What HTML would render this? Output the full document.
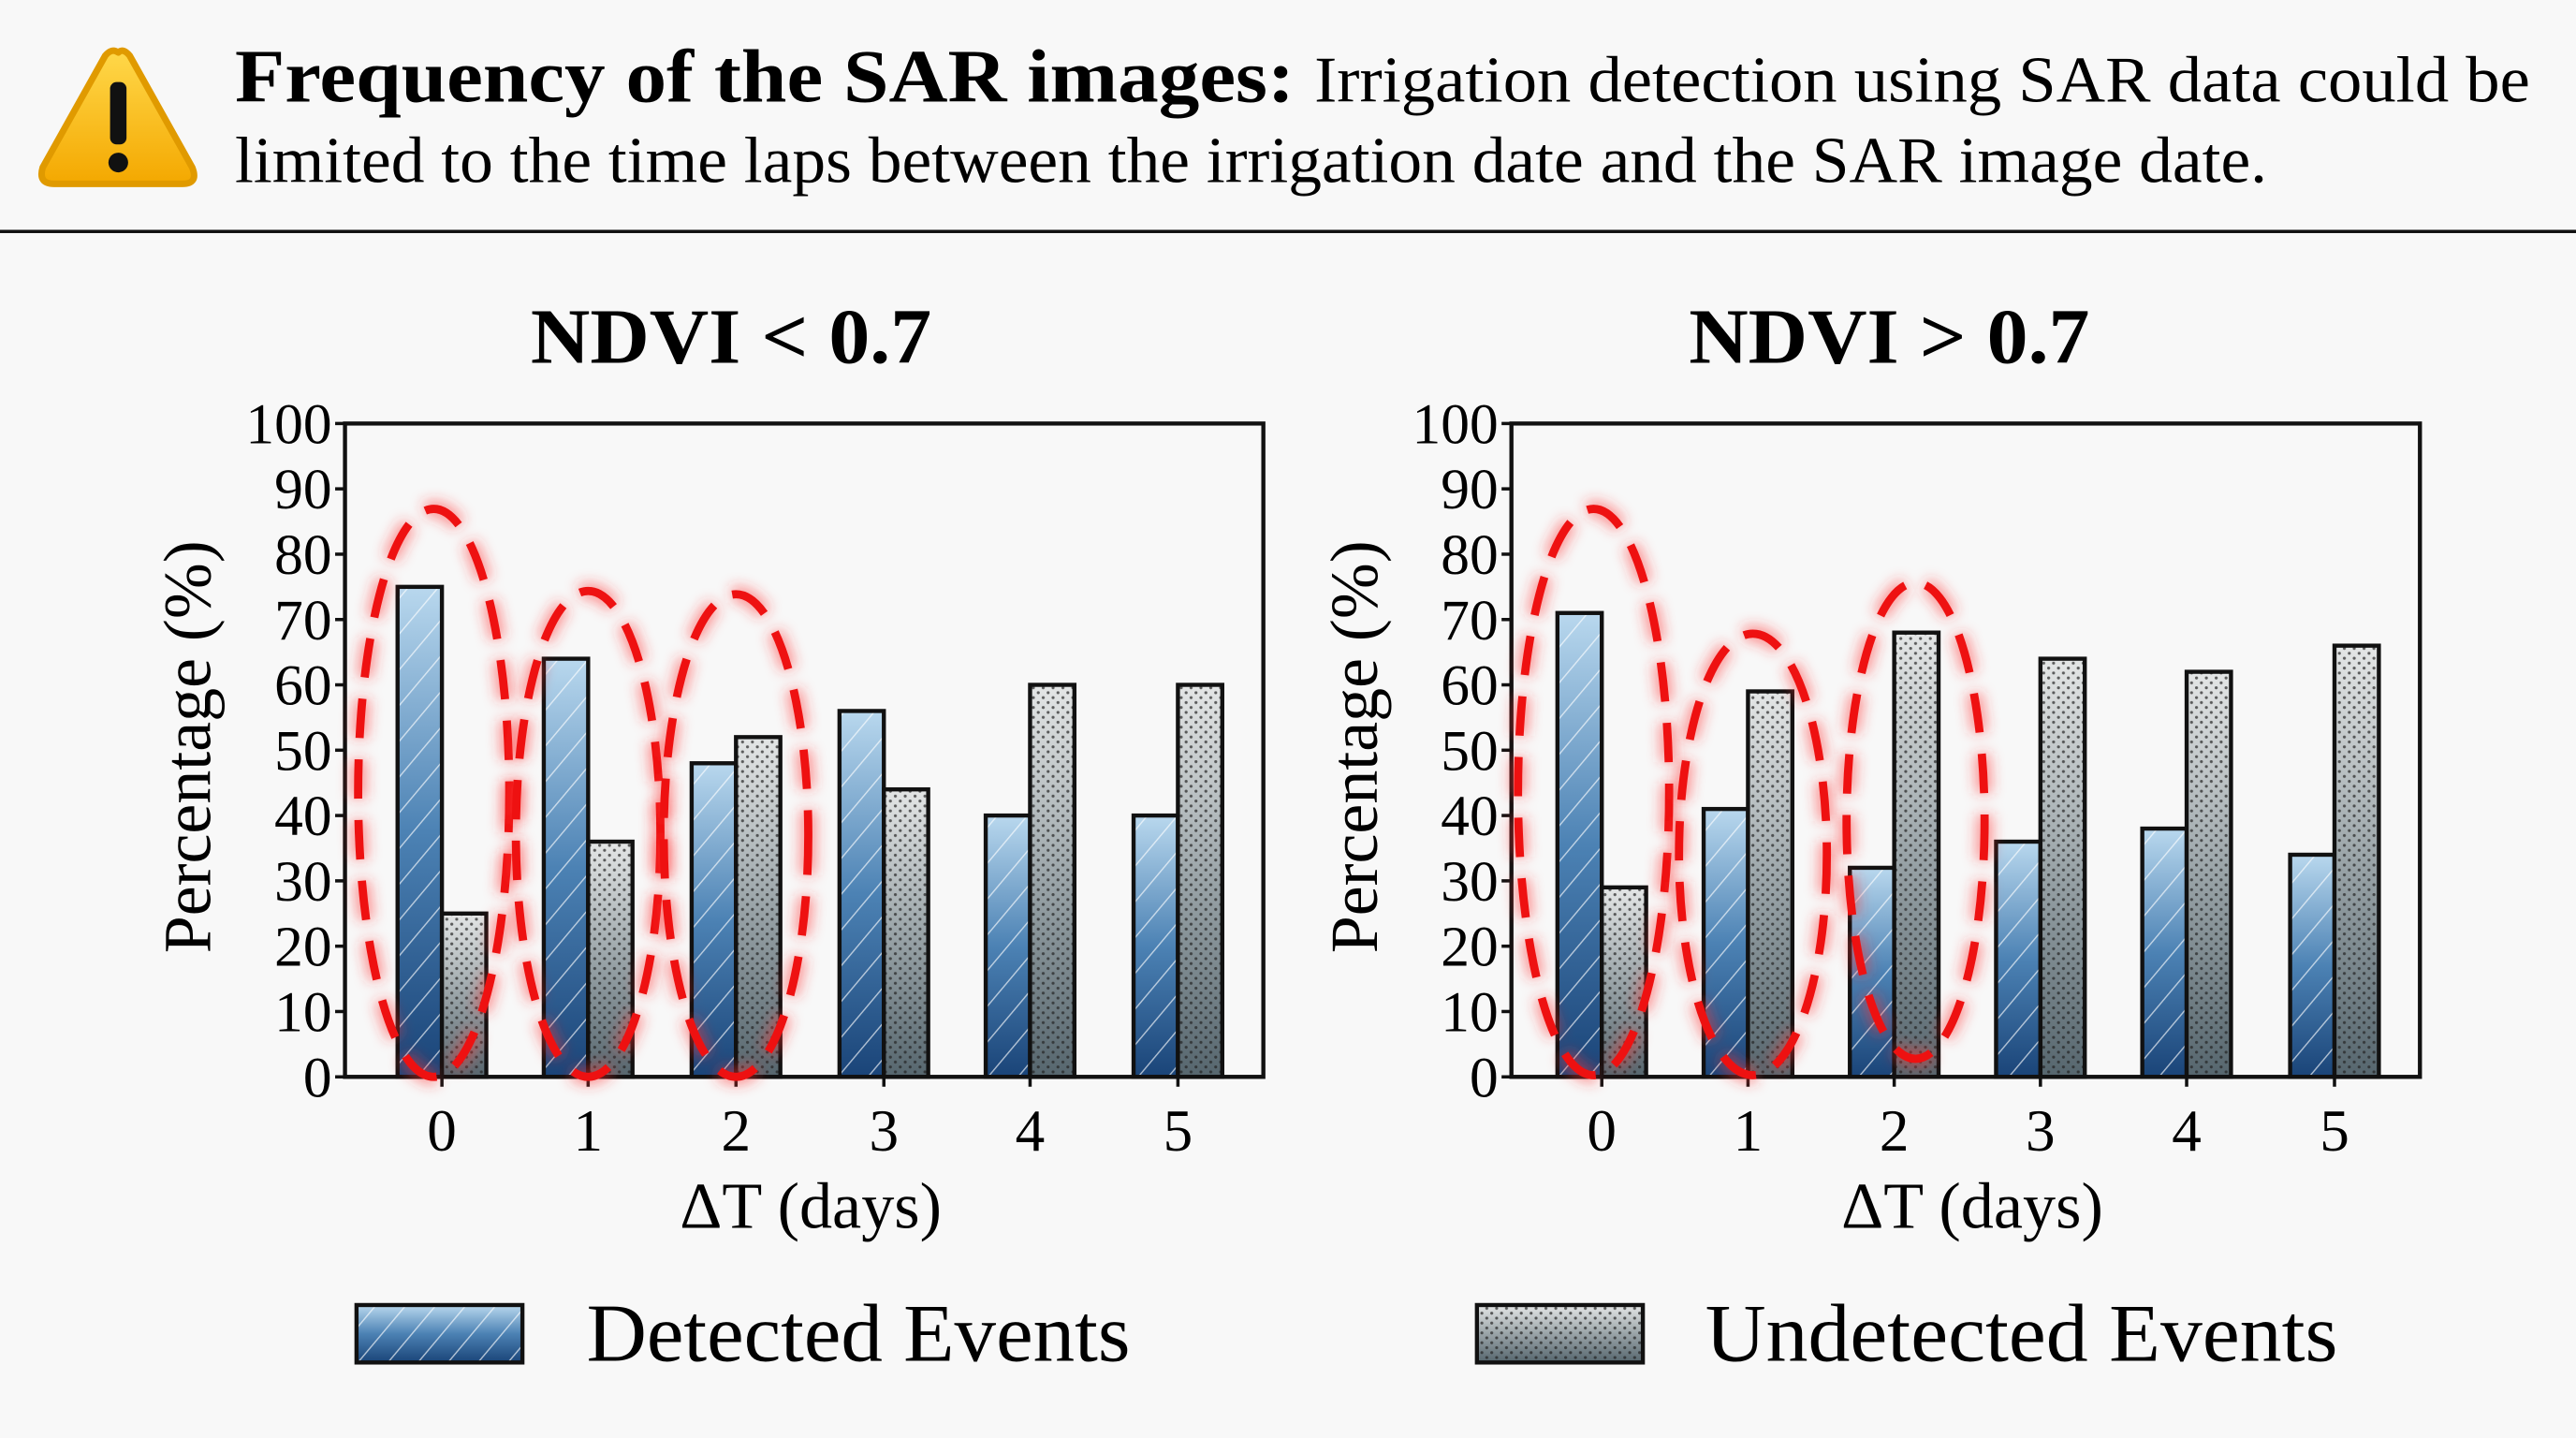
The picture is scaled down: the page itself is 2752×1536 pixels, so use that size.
<!DOCTYPE html>
<html><head><meta charset="utf-8"><style>html,body{margin:0;padding:0;background:#f8f8f8;}svg{display:block}</style></head><body>
<svg width="2752" height="1536" viewBox="0 0 1568 876" preserveAspectRatio="none" xmlns="http://www.w3.org/2000/svg" font-family="Liberation Serif, serif">
<defs>
<linearGradient id="gb" x1="0" y1="1" x2="0" y2="0"><stop offset="0" stop-color="#1a4478"/><stop offset="0.5" stop-color="#4c82b4"/><stop offset="1" stop-color="#b9d8ee"/></linearGradient>
<linearGradient id="gg" x1="0" y1="1" x2="0" y2="0"><stop offset="0" stop-color="#56666e"/><stop offset="0.5" stop-color="#9aa4a8"/><stop offset="1" stop-color="#e4e6e6"/></linearGradient>
<pattern id="hatch" width="14" height="14" patternUnits="userSpaceOnUse" patternTransform="rotate(40)"><line x1="0" y1="0" x2="0" y2="14" stroke="#fff" stroke-opacity="0.65" stroke-width="1.6"/></pattern>
<pattern id="dots" width="6" height="6" patternUnits="userSpaceOnUse"><circle cx="2" cy="2" r="0.9" fill="#222" fill-opacity="0.7"/><circle cx="5" cy="5" r="0.9" fill="#222" fill-opacity="0.7"/></pattern>
<filter id="glow" x="-30%" y="-10%" width="160%" height="120%"><feGaussianBlur stdDeviation="4"/></filter>
<linearGradient id="tri" x1="0" y1="0" x2="0" y2="1"><stop offset="0" stop-color="#ffd84a"/><stop offset="1" stop-color="#f4a800"/></linearGradient>
</defs>
<rect width="1568" height="876" fill="#f8f8f8"/>
<path d="M72 32 Q68 29 64 34 L26 102 Q23 112 33 112 L111 112 Q121 112 117 102 L79 34 Q75 29 72 32Z" fill="url(#tri)" stroke="#e09a00" stroke-width="4" stroke-linejoin="round"/>
<rect x="67" y="50" width="10" height="38" rx="4" fill="#111"/><circle cx="72" cy="99" r="6" fill="#111"/>
<text x="143" y="62" font-size="46" font-weight="bold" textLength="645" lengthAdjust="spacingAndGlyphs">Frequency of the SAR images:</text>
<text x="800" y="62" font-size="40" textLength="740" lengthAdjust="spacingAndGlyphs">Irrigation detection using SAR data could be</text>
<text x="143" y="111" font-size="40" textLength="1237" lengthAdjust="spacingAndGlyphs">limited to the time laps between the irrigation date and the SAR image date.</text>
<rect x="0" y="140" width="1568" height="2" fill="#111"/>
<g id="charts"></g>
<rect x="217" y="795" width="101" height="35" fill="url(#gb)"/><rect x="217" y="795" width="101" height="35" fill="url(#hatch)" stroke="#111" stroke-width="2.5"/>
<text x="357" y="829" font-size="50" textLength="331" lengthAdjust="spacingAndGlyphs">Detected Events</text>
<rect x="899" y="795" width="101" height="35" fill="url(#gg)"/><rect x="899" y="795" width="101" height="35" fill="url(#dots)" stroke="#111" stroke-width="2.5"/>
<text x="1038" y="829" font-size="50" textLength="385" lengthAdjust="spacingAndGlyphs">Undetected Events</text>
</svg>
<script>
const NS="http://www.w3.org/2000/svg";const g=document.getElementById('charts');
function el(t,a,txt){const e=document.createElementNS(NS,t);for(const k in a)e.setAttribute(k,a[k]);if(txt!==undefined)e.textContent=txt;g.appendChild(e);return e;}
function chart(x0,x1,centers,D,U,title,tc,ells){
 const y0=656,yt=258,s=(y0-yt)/100,bw=27;
 el('text',{x:tc-122,y:221,'font-size':48,'font-weight':'bold',textLength:244,lengthAdjust:'spacingAndGlyphs'},title);
 for(let v=0;v<=100;v+=10){const y=y0-v*s;el('line',{x1:x0-6,x2:x0,y1:y,y2:y,stroke:'#111','stroke-width':2});el('text',{x:x0-8,y:y+12,'font-size':35,'text-anchor':'end'},v);}
 centers.forEach((c,i)=>{
  const hd=D[i]*s,hu=U[i]*s;
  el('rect',{x:c-bw,y:y0-hd,width:bw,height:hd,fill:'url(#gb)'});
  el('rect',{x:c-bw,y:y0-hd,width:bw,height:hd,fill:'url(#hatch)',stroke:'#111','stroke-width':2.5});
  el('rect',{x:c,y:y0-hu,width:bw,height:hu,fill:'url(#gg)'});
  el('rect',{x:c,y:y0-hu,width:bw,height:hu,fill:'url(#dots)',stroke:'#111','stroke-width':2.5});
  el('line',{x1:c,x2:c,y1:y0,y2:y0+6,stroke:'#111','stroke-width':2});
  el('text',{x:c,y:701,'font-size':36,'text-anchor':'middle'},i);
 });
 el('rect',{x:x0,y:yt,width:x1-x0,height:y0-yt,fill:'none',stroke:'#111','stroke-width':2.5});
 el('text',{x:(x0+x1)/2+4,y:748,'font-size':40,'text-anchor':'middle'},'ΔT (days)');
 el('text',{transform:`translate(${x0-82},${(y0+yt)/2-2}) rotate(-90)`,'font-size':41,'text-anchor':'middle'},'Percentage (%)');
 ells.forEach(([cx,top,bot,rx])=>{const cy=(top+bot)/2,ry=(bot-top)/2;
  el('ellipse',{cx,cy,rx,ry,fill:'none',stroke:'#ff3030','stroke-opacity':0.5,'stroke-width':10,'stroke-dasharray':'24 13',filter:'url(#glow)'});
  el('ellipse',{cx,cy,rx,ry,fill:'none',stroke:'#ee1111','stroke-width':5,'stroke-dasharray':'24 13'});});
}
chart(210,769,[269,358,448,538,627,717],[75,64,48,56,40,40],[25,36,52,44,60,60],'NDVI < 0.7',445,[[264,310,656,46],[358,360,656,44],[448,362,656,44]]);
chart(920,1473,[975,1064,1153,1242,1331,1421],[71,41,32,36,38,34],[29,59,68,64,62,66],'NDVI > 0.7',1150,[[970,310,655,46],[1067,386,655,45],[1166,355,645,42]]);
</script>
</body></html>
